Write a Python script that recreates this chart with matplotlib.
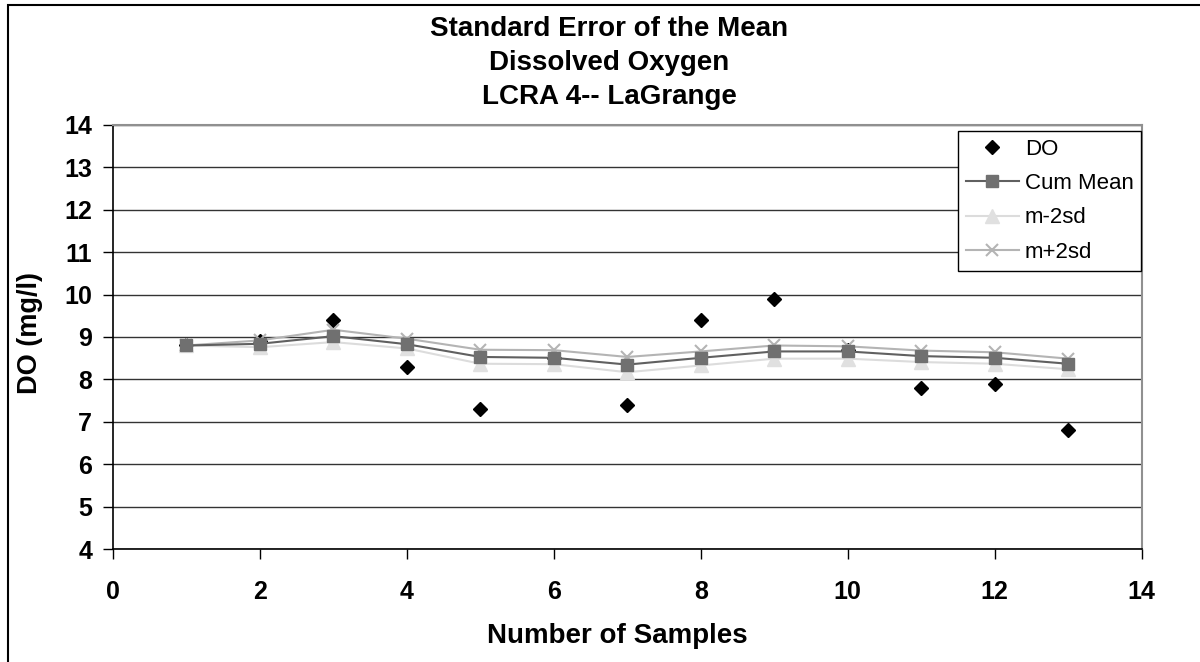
import numpy as np
import matplotlib
matplotlib.use("Agg")
import matplotlib.pyplot as plt
from matplotlib.patches import Rectangle

plt.rcParams['font.family'] = ['Liberation Sans', 'DejaVu Sans']

samples = [1, 2, 3, 4, 5, 6, 7, 8, 9, 10, 11, 12, 13]
do_vals = [8.8, 8.9, 9.4, 8.3, 7.3, 8.5, 7.4, 9.4, 9.9, 8.7, 7.8, 7.9, 6.8]
cum_mean = [8.80, 8.84, 9.02, 8.83, 8.53, 8.51, 8.35, 8.51, 8.66, 8.66, 8.55, 8.51, 8.37]
m_minus = [8.80, 8.76, 8.88, 8.73, 8.37, 8.36, 8.17, 8.33, 8.49, 8.49, 8.41, 8.37, 8.24]
m_plus = [8.80, 8.92, 9.17, 8.96, 8.70, 8.69, 8.53, 8.66, 8.80, 8.78, 8.68, 8.64, 8.49]
titles = ['Standard Error of the Mean', 'Dissolved Oxygen', 'LCRA 4-- LaGrange']

W, H = 1200, 662
fig = plt.figure(figsize=(W / 100, H / 100), dpi=100)
# chart area frame (only left and top show in the crop)
fig.patches.append(Rectangle((8 / W, -0.01), 1.1, 1 - 5 / H + 0.01,
                             transform=fig.transFigure, fill=False,
                             edgecolor='black', linewidth=1.5))

L, R, T, B = 113, 1141.7, 124.7, 549.3
ax = fig.add_axes([L / W, (H - B) / H, (R - L) / W, (B - T) / H])

# DO first so the other series sit on top of it, like in the original
h_do, = ax.plot(samples, do_vals, linestyle='none', marker='D', markersize=7.5,
                color='black', label='DO', zorder=2)
h_lo, = ax.plot(samples, m_minus, color='#dcdcdc', linewidth=1.5, marker='^',
                markersize=10, markerfacecolor='#e0e0e0', markeredgecolor='#e0e0e0',
                label='m-2sd', zorder=3)
h_hi, = ax.plot(samples, m_plus, color='#b4b4b4', linewidth=1.5, marker='x',
                markersize=9, markeredgewidth=1.5, label='m+2sd', zorder=4)
h_mean, = ax.plot(samples, cum_mean, color='#606060', linewidth=1.5, marker='s',
                  markersize=9, markerfacecolor='#707070', markeredgecolor='#707070',
                  label='Cum Mean', zorder=5)

ax.set_xlim(0, 14)
ax.set_ylim(4, 14)
ax.set_xticks(np.arange(0, 15, 2))
ax.set_yticks(np.arange(4, 15, 1))
ax.yaxis.grid(True, color='#333333', linewidth=1)
ax.set_axisbelow(True)

for side in ['top', 'right']:
    ax.spines[side].set_color('#909090')
    ax.spines[side].set_linewidth(1.5)
for side in ['left', 'bottom']:
    ax.spines[side].set_color('black')
    ax.spines[side].set_linewidth(1.2)

ax.tick_params(axis='both', direction='out', length=7, width=1, labelsize=18)
for lab in ax.get_xticklabels() + ax.get_yticklabels():
    lab.set_fontweight('bold')
ax.tick_params(axis='x', pad=15)
ax.tick_params(axis='y', pad=8)

fig.text(617 / W, 1 - 636 / H, 'Number of Samples', ha='center', va='center',
         fontsize=20, fontweight='bold')
fig.text(30 / W, 1 - 333 / H, 'DO (mg/l)', ha='center', va='center',
         rotation=90, fontsize=19.5, fontweight='bold')

for i, line in enumerate(titles):
    fig.text(609 / W, 1 - (29 + 34 * i) / H, line, ha='center', va='center',
             fontsize=20, fontweight='bold')

leg = ax.legend(handles=[h_do, h_mean, h_lo, h_hi], loc='upper left',
                bbox_to_anchor=((958 - L) / (R - L), 1 - (131 - T) / (B - T)),
                fontsize=16, frameon=True, fancybox=False, framealpha=1,
                edgecolor='black', borderpad=0.35, labelspacing=0.6,
                handlelength=2.4, handletextpad=0.25, borderaxespad=0)
leg.get_frame().set_linewidth(1)
leg.set_zorder(10)

fig.savefig('out.png', dpi=100)
